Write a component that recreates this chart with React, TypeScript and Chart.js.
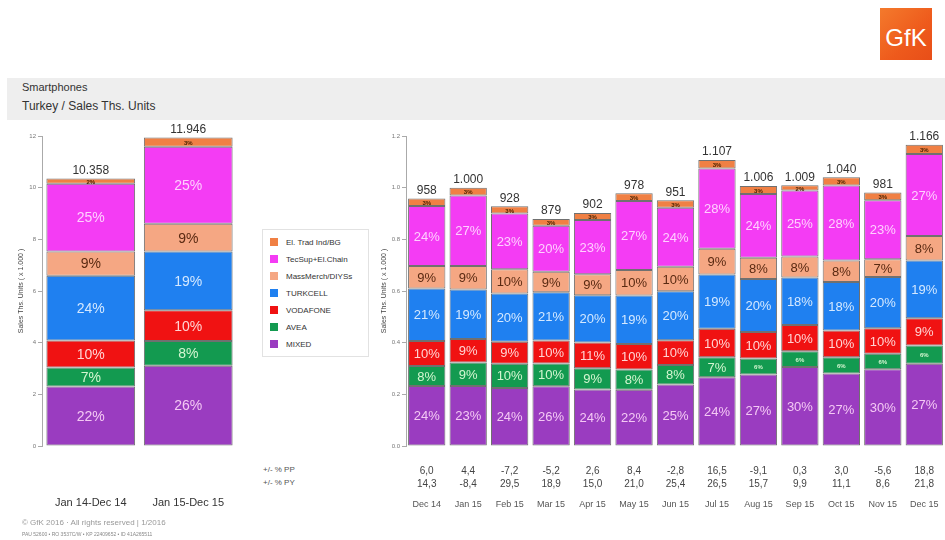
import React, { useEffect, useRef } from "react";
import { Chart, registerables } from "chart.js";

Chart.register(...registerables);

const FONT = '"Liberation Sans", Arial, sans-serif';

// Segments, bottom to top
const segmentNames = ["MIXED", "AVEA", "VODAFONE", "TURKCELL", "MassMerch/DIYSs", "TecSup+El.Chain", "El. Trad Ind/BG"];
const segmentColors = ["#9a3cc0", "#139a50", "#f01212", "#1f80f0", "#f5a783", "#f43cf4", "#f08044"];
const labelColors = ["#f4c8f4", "#d4f6d0", "#ffd4d4", "#d4e8ff", "#5a2a12", "#ffd0ff", "#4a2200"];

// Annual (left chart)
const annualCategories = ["Jan 14-Dec 14", "Jan 15-Dec 15"];
const annualTotals = [10358, 11946];
const annualMixed = [22, 26];
const annualAvea = [7, 8];
const annualVodafone = [10, 10];
const annualTurkcell = [24, 19];
const annualMassMerch = [9, 9];
const annualTecSup = [25, 25];
const annualElTrad = [2, 3];

// Monthly (right chart)
const monthCategories = ["Dec 14", "Jan 15", "Feb 15", "Mar 15", "Apr 15", "May 15", "Jun 15", "Jul 15", "Aug 15", "Sep 15", "Oct 15", "Nov 15", "Dec 15"];
const monthTotals = [958, 1000, 928, 879, 902, 978, 951, 1107, 1006, 1009, 1040, 981, 1166];
const monthMixed = [24, 23, 24, 26, 24, 22, 25, 24, 27, 30, 27, 30, 27];
const monthAvea = [8, 9, 10, 10, 9, 8, 8, 7, 6, 6, 6, 6, 6];
const monthVodafone = [10, 9, 9, 10, 11, 10, 10, 10, 10, 10, 10, 10, 9];
const monthTurkcell = [21, 19, 20, 21, 20, 19, 20, 19, 20, 18, 18, 20, 19];
const monthMassMerch = [9, 9, 10, 9, 9, 10, 10, 9, 8, 8, 8, 7, 8];
const monthTecSup = [24, 27, 23, 20, 23, 27, 24, 28, 24, 25, 28, 23, 27];
const monthElTrad = [3, 3, 3, 3, 3, 3, 3, 3, 3, 2, 3, 3, 3];
const monthPP = ["6,0", "4,4", "-7,2", "-5,2", "2,6", "8,4", "-2,8", "16,5", "-9,1", "0,3", "3,0", "-5,6", "18,8"];
const monthPY = ["14,3", "-8,4", "29,5", "18,9", "15,0", "21,0", "25,4", "26,5", "15,7", "9,9", "11,1", "8,6", "21,8"];

const legendOrder = [6, 5, 4, 3, 2, 1, 0];

function fmtThousands(n: number) {
  if (n < 1000) return String(n);
  const k = Math.floor(n / 1000);
  const r = String(n % 1000).padStart(3, "0");
  return k + "." + r;
}

function buildDatasets(pcts: number[][], totals: number[], barPct: number) {
  return pcts.map((arr, i) => ({
    label: segmentNames[i],
    data: arr.map((p, j) => {
      const sum = pcts.reduce((s, a) => s + a[j], 0);
      return (totals[j] / 1000) * (p / sum);
    }),
    backgroundColor: segmentColors[i],
    borderColor: "#707070",
    borderWidth: 1,
    borderSkipped: false,
    barPercentage: barPct,
    categoryPercentage: 1,
  }));
}

const segLabelPlugin = {
  id: "segLabels",
  afterDatasetsDraw(chart: any, _args: any, opts: any) {
    const ctx = chart.ctx;
    const pcts: number[][] = opts.pcts;
    const totals: number[] = opts.totals;
    ctx.save();
    ctx.textAlign = "center";
    ctx.textBaseline = "middle";
    chart.data.datasets.forEach((_ds: any, i: number) => {
      const meta = chart.getDatasetMeta(i);
      meta.data.forEach((el: any, j: number) => {
        const p = pcts[i][j];
        const small = p < 7;
        ctx.font = small ? `bold 6px ${FONT}` : `${opts.fontSize}px ${FONT}`;
        ctx.fillStyle = labelColors[i];
        ctx.fillText(p + "%", el.x, (el.y + el.base) / 2 + 1);
      });
    });
    const top = chart.getDatasetMeta(chart.data.datasets.length - 1);
    ctx.font = `12px ${FONT}`;
    ctx.fillStyle = "#333";
    ctx.textBaseline = "bottom";
    top.data.forEach((el: any, j: number) => {
      ctx.fillText(fmtThousands(totals[j]), el.x, el.y - 2);
    });
    ctx.restore();
  },
};

const rowsPlugin = {
  id: "extraRows",
  afterDraw(chart: any, _args: any, opts: any) {
    if (!opts || !opts.rows) return;
    const ctx = chart.ctx;
    const xs = chart.scales.x;
    ctx.save();
    ctx.font = `10px ${FONT}`;
    ctx.fillStyle = "#444";
    ctx.textAlign = "center";
    ctx.textBaseline = "middle";
    opts.rows.forEach((row: string[], r: number) => {
      row.forEach((t, j) => {
        ctx.fillText(t, xs.getPixelForValue(j), chart.chartArea.bottom + opts.offsets[r]);
      });
    });
    ctx.restore();
  },
};

function makeConfig(kind: "annual" | "month") {
  const annual = kind === "annual";
  const pcts = annual
    ? [annualMixed, annualAvea, annualVodafone, annualTurkcell, annualMassMerch, annualTecSup, annualElTrad]
    : [monthMixed, monthAvea, monthVodafone, monthTurkcell, monthMassMerch, monthTecSup, monthElTrad];
  const totals = annual ? annualTotals : monthTotals;
  return {
    type: "bar",
    data: {
      labels: annual ? annualCategories : monthCategories,
      datasets: buildDatasets(pcts, totals, annual ? 0.91 : 0.9),
    },
    plugins: [segLabelPlugin, rowsPlugin],
    options: {
      animation: false,
      responsive: false,
      layout: { padding: { top: 26, right: annual ? 3 : 0, left: 0, bottom: 0 } },
      plugins: {
        legend: { display: false },
        tooltip: { enabled: false },
        segLabels: { pcts, totals, fontSize: annual ? 14 : 13 },
        extraRows: annual ? {} : { rows: [monthPP, monthPY], offsets: [25, 38] },
      },
      scales: {
        x: {
          stacked: true,
          grid: { display: false },
          border: { display: false },
          ticks: {
            autoSkip: false,
            maxRotation: 0,
            padding: annual ? 42 : 45,
            color: annual ? "#333" : "#555",
            font: { family: FONT, size: annual ? 11 : 9 },
          },
          afterFit: (s: any) => {
            s.height = 89;
            s.paddingLeft = 0;
            s.paddingRight = 0;
          },
        },
        y: {
          stacked: true,
          min: 0,
          max: annual ? 12 : 1.2,
          ticks: {
            stepSize: annual ? 2 : 0.2,
            padding: 2,
            color: "#777",
            font: { family: FONT, size: 6 },
            callback: (v: any) => (annual ? String(v) : Number(v).toFixed(1)),
          },
          grid: { drawOnChartArea: false, drawTicks: true, tickLength: 4, color: "#aaa" },
          border: { display: true, color: "#aaa" },
          title: {
            display: true,
            text: "Sales Ths. Units ( x 1.000 )",
            color: "#444",
            font: { family: FONT, size: 7 },
            padding: { top: annual ? 17 : 10, bottom: 0 },
          },
          afterFit: (s: any) => {
            s.width = annual ? 42 : 36;
            s.paddingTop = 0;
            s.paddingBottom = 0;
          },
        },
      },
    },
  } as any;
}

function ChartCanvas({ kind, left, top, width, height }: { kind: "annual" | "month"; left: number; top: number; width: number; height: number }) {
  const ref = useRef<HTMLCanvasElement | null>(null);
  useEffect(() => {
    if (!ref.current) return;
    const chart = new Chart(ref.current, makeConfig(kind));
    return () => chart.destroy();
  }, [kind]);
  return (
    <canvas
      ref={ref}
      width={width}
      height={height}
      style={{ position: "absolute", left, top, width, height }}
    />
  );
}

export default function App() {
  return (
    <div
      style={{
        position: "fixed",
        left: 0,
        top: 0,
        width: 945,
        height: 540,
        background: "#fff",
        fontFamily: FONT,
        overflow: "hidden",
      }}
    >
      {/* Logo */}
      <div
        style={{
          position: "absolute",
          left: 880,
          top: 8,
          width: 52,
          height: 52,
          background: "linear-gradient(135deg, #f47a2c 0%, #ee5a1c 60%, #e84e18 100%)",
          color: "#fff",
          fontSize: 24,
          lineHeight: "52px",
          textAlign: "center",
          paddingTop: 4,
          boxSizing: "border-box",
        }}
      >
        GfK
      </div>
      {/* Header band */}
      <div style={{ position: "absolute", left: 7, top: 78, width: 938, height: 42, background: "#eeeeee" }} />
      <div style={{ position: "absolute", left: 22, top: 81, fontSize: 11, color: "#333" }}>Smartphones</div>
      <div style={{ position: "absolute", left: 22, top: 99, fontSize: 12, color: "#333" }}>Turkey / Sales Ths. Units</div>

      <ChartCanvas kind="annual" left={0} top={110} width={240} height={425} />
      <ChartCanvas kind="month" left={370} top={110} width={575} height={425} />

      {/* Legend */}
      <div
        style={{
          position: "absolute",
          left: 262,
          top: 229,
          width: 107,
          height: 128,
          border: "1px solid #e2e2e2",
          boxSizing: "border-box",
        }}
      >
        {legendOrder.map((i, k) => (
          <div key={i} style={{ position: "absolute", left: 7, top: 7 + k * 17, height: 10, display: "flex", alignItems: "center" }}>
            <div style={{ width: 8, height: 8, background: segmentColors[i], marginRight: 8 }} />
            <span style={{ fontSize: 8, color: "#333", whiteSpace: "nowrap" }}>{segmentNames[i]}</span>
          </div>
        ))}
      </div>

      {/* Row labels */}
      <div style={{ position: "absolute", left: 263, top: 465, fontSize: 8, color: "#555" }}>+/- % PP</div>
      <div style={{ position: "absolute", left: 263, top: 478, fontSize: 8, color: "#555" }}>+/- % PY</div>

      {/* Footer */}
      <div style={{ position: "absolute", left: 22, top: 518, fontSize: 8, color: "#999" }}>© GfK 2016 · All rights reserved | 1/2016</div>
      <div style={{ position: "absolute", left: 22, top: 531, fontSize: 5, color: "#888" }}>PAU 52600 • RO 3537C/W • KP 22409652 • ID 41A265511</div>
    </div>
  );
}
